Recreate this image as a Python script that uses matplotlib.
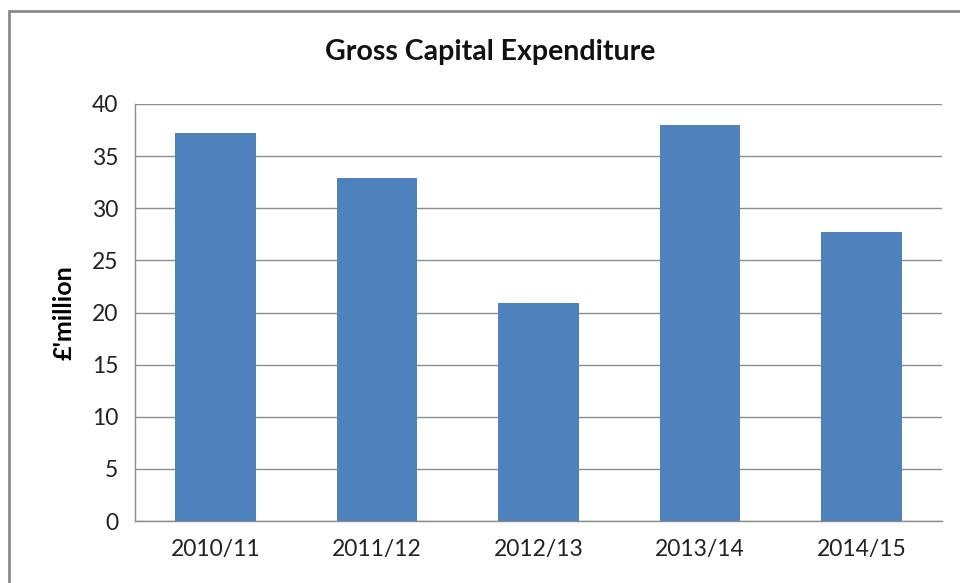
import matplotlib
matplotlib.use("Agg")
import matplotlib.pyplot as plt
from matplotlib.patches import Rectangle

years = ["2010/11", "2011/12", "2012/13", "2013/14", "2014/15"]
spend = [37.2, 32.9, 20.9, 38.0, 27.7]
y_ticks = [0, 5, 10, 15, 20, 25, 30, 35, 40]

plt.rcParams["font.family"] = ["Lato", "DejaVu Sans"]

W, H = 960, 583
fig = plt.figure(figsize=(W / 100, H / 100), dpi=100)

# plot area in pixel terms: left 135, right 942, top 104, bottom 521
ax = fig.add_axes([135 / W, 1 - 521 / H, (942 - 135) / W, (521 - 104) / H])

ax.bar(range(len(years)), spend, width=0.5, color="#4f81bd", zorder=3)
ax.set_xlim(-0.5, len(years) - 0.5)
ax.set_ylim(0, 40)
ax.set_yticks(y_ticks)
ax.set_xticks(range(len(years)))
ax.set_xticklabels(years)
ax.grid(axis="y", color="#8c8c8c", linewidth=1, zorder=0)
ax.tick_params(axis="both", length=0, labelsize=16.5, colors="#222222")
ax.tick_params(axis="y", pad=12)
ax.tick_params(axis="x", pad=13)

for side in ("top", "right"):
    ax.spines[side].set_visible(False)
for side in ("left", "bottom"):
    ax.spines[side].set_color("#8c8c8c")
    ax.spines[side].set_linewidth(1)

ax.set_ylabel("£'million", fontsize=18, fontweight="bold", labelpad=12)
fig.text(490 / W, 1 - 52 / H, "Gross Capital Expenditure", ha="center", va="center",
         fontsize=20.5, fontweight="bold", color="#111111")

# chart frame, cropped at right and bottom
fig.patches.append(Rectangle((9 / W, -0.1), 1.2, 1 - 11 / H + 0.1, transform=fig.transFigure,
                             fill=False, edgecolor="#8a8a8a", linewidth=2))

fig.savefig("out.png", dpi=100, facecolor="white")
